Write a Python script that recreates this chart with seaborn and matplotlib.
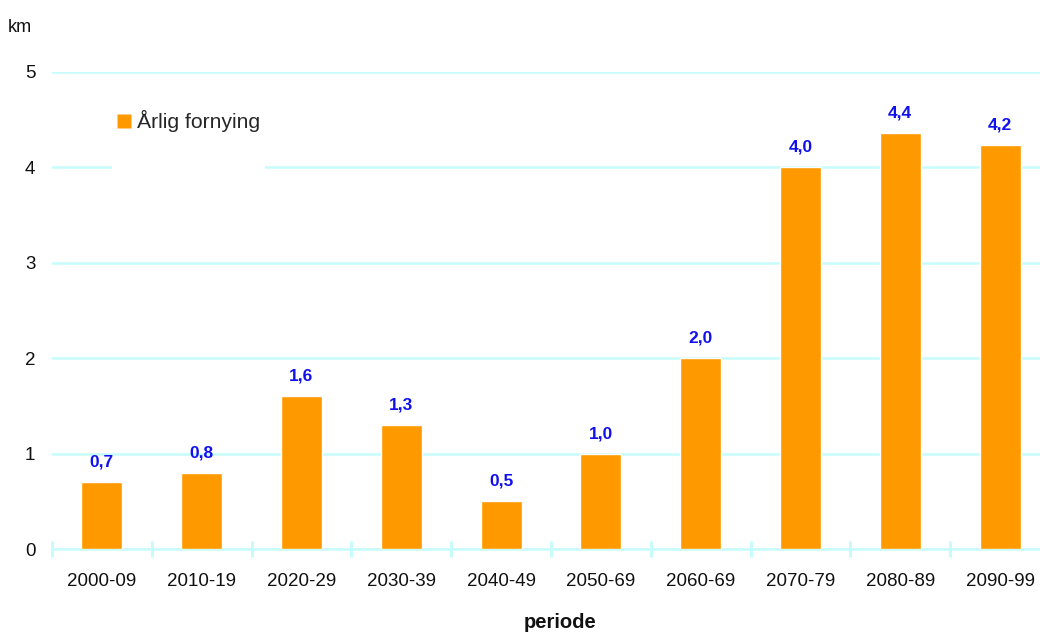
import matplotlib
matplotlib.use("Agg")
import matplotlib.pyplot as plt
import seaborn as sns
import pandas as pd
from matplotlib.lines import Line2D
from matplotlib.patches import Rectangle

categories = ["2000-09", "2010-19", "2020-29", "2030-39", "2040-49",
              "2050-69", "2060-69", "2070-79", "2080-89", "2090-99"]
values = [0.7, 0.8, 1.6, 1.3, 0.5, 1.0, 2.0, 4.0, 4.36, 4.23]
series_name = "Årlig fornying"
y_ticks = [0, 1, 2, 3, 4, 5]

sns.set_theme(style="white")
plt.rcParams['font.family'] = ['Liberation Sans', 'DejaVu Sans']

W, H = 1040, 632
fig = plt.figure(figsize=(W / 100, H / 100), dpi=100)
ax = fig.add_axes([52 / W, (H - 549) / H, 998 / W, 477 / H])

df = pd.DataFrame({"periode": categories, "km": values})
sns.barplot(data=df, x="periode", y="km", color="#FF9900", saturation=1,
            width=0.41, ax=ax, zorder=3)

ax.set_xlim(-0.5, len(categories) - 0.5)
ax.set_ylim(0, 5)
ax.set_yticks(y_ticks)
ax.set_yticklabels([str(t) for t in y_ticks])

grid_c = "#C8FCFC"
ax.yaxis.grid(True, color=grid_c, linewidth=1.8, zorder=0)
ax.xaxis.grid(False)
ax.set_axisbelow(True)
for s in ["top", "right", "left"]:
    ax.spines[s].set_visible(False)
ax.spines["bottom"].set_color(grid_c)
ax.spines["bottom"].set_linewidth(1.8)
ax.spines["bottom"].set_zorder(1)

ax.tick_params(axis="y", length=0, pad=12, labelsize=13.5, labelcolor="#111111")
ax.tick_params(axis="x", which="major", length=0, pad=17, labelsize=13.5,
               labelcolor="#111111")
ax.set_xticks([i - 0.5 for i in range(len(categories) + 1)], minor=True)
ax.tick_params(axis="x", which="minor", bottom=True, direction="inout",
               length=11, width=2.2, color=grid_c)
ax.set_xlabel("")
ax.set_ylabel("")

labels = [f"{v:.1f}".replace(".", ",") for v in values]
ax.bar_label(ax.containers[0], labels=labels, padding=9, color="#1111EE",
             fontsize=12.5, fontweight="bold")

# legend with white background patch covering gridline
ax.add_patch(Rectangle(((112 - 52) / 998, (549 - 175) / 477), 153 / 998, 85 / 477,
                       transform=ax.transAxes, facecolor="white",
                       edgecolor="none", zorder=2))
handle = Line2D([], [], linestyle="none", marker="s", markersize=9.5,
                markerfacecolor="#FF9900", markeredgecolor="none")
leg = ax.legend([handle], [series_name], loc="center left",
                bbox_to_anchor=((117 - 52) / 998, (549 - 121) / 477),
                frameon=False, fontsize=15.2, handlelength=0.7,
                handletextpad=0.25, borderpad=0, borderaxespad=0)
leg.set_zorder(4)

fig.text(8 / W, 1 - 28 / H, "km", fontsize=13, va="center", ha="left",
         color="#111111")
fig.text(560 / W, 1 - 622 / H, "periode", fontsize=14.5, fontweight="bold",
         va="center", ha="center", color="#111111")

fig.savefig("out.png", dpi=100)
